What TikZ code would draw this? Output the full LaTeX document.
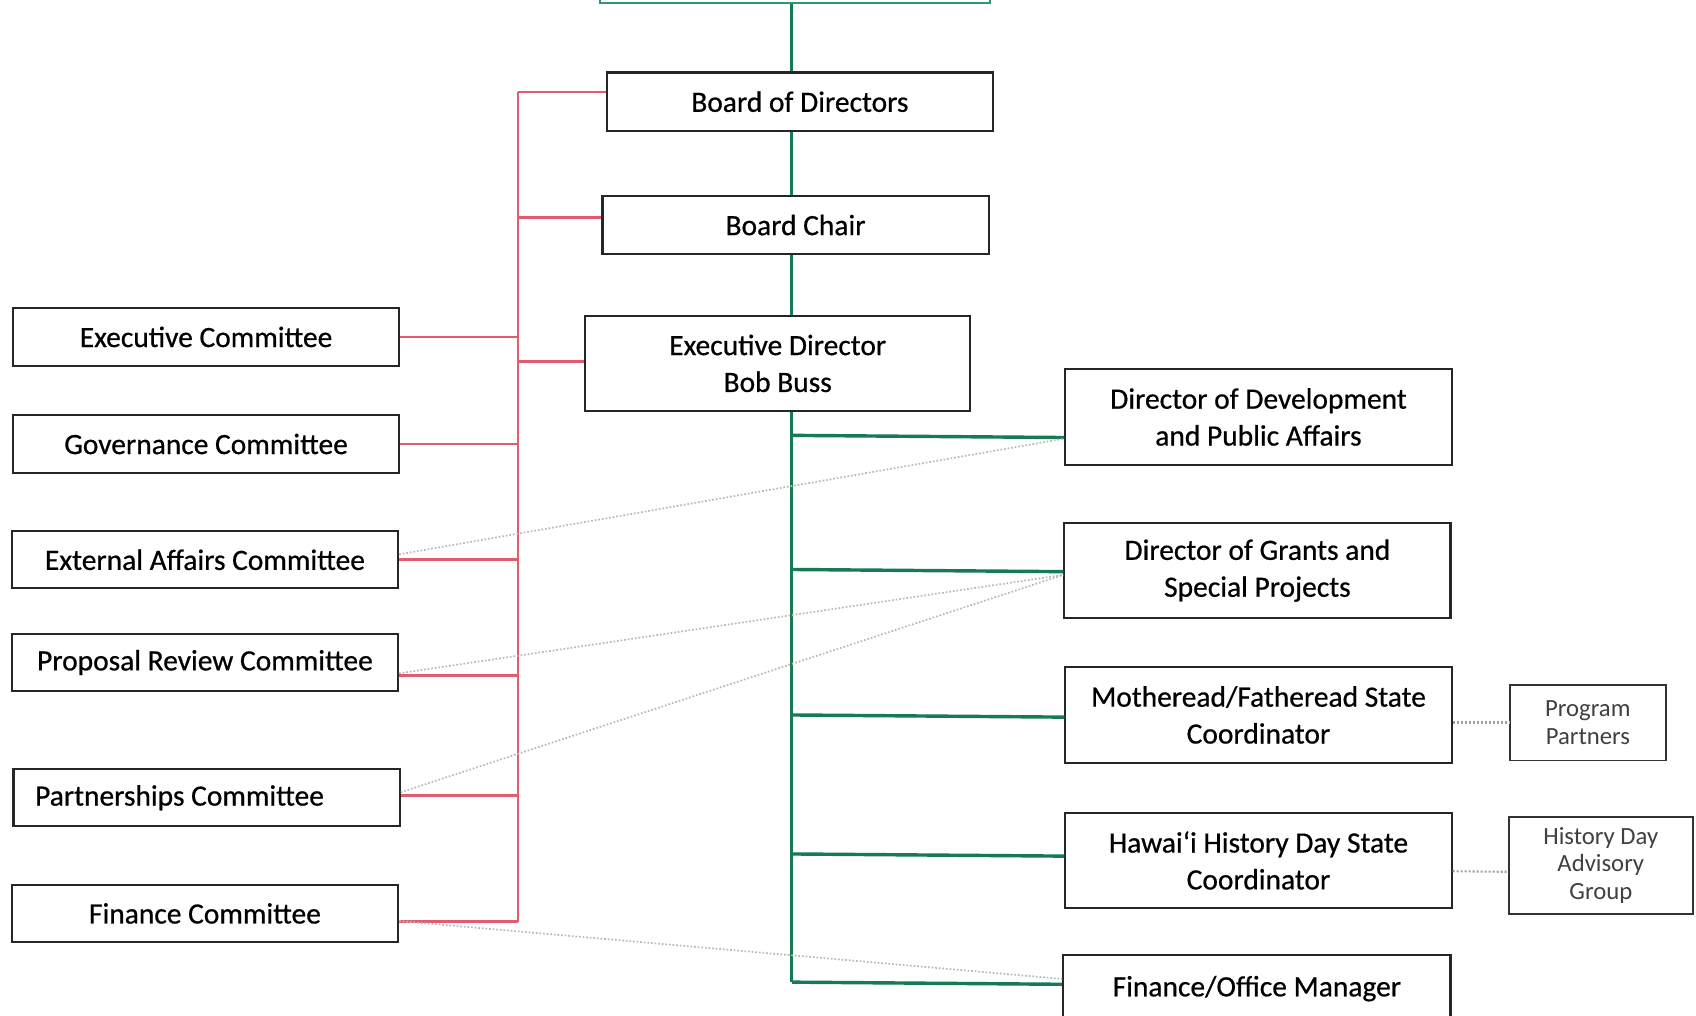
\documentclass[tikz,border=0pt]{standalone}
\usepackage{fontspec}
\setmainfont{Carlito}
\newfontfamily\chartfont{Carlito}[FakeBold=0.6]
\usepackage{tikz}
\usetikzlibrary{positioning}
\usetikzlibrary{calc}

\definecolor{boardgreen}{RGB}{22,122,82}
\definecolor{topgreen}{RGB}{46,150,112}
\definecolor{cmtred}{RGB}{226,92,112}

\begin{document}
\begin{tikzpicture}[x=0.2mm,y=-0.2mm,
	box/.style={draw=black!85, line width=1.1pt, fill=white, inner sep=0pt,
		minimum width=71.4mm, minimum height=10.6mm, align=center,
		font=\chartfont\fontsize{15.5}{19.4}\selectfont},
	tallbox/.style={box, minimum height=17.7mm},
	smallbox/.style={draw=black!80, line width=0.9pt, fill=white, inner sep=0pt,
		align=center, text=black!75, font=\fontsize{13}{14.6}\selectfont},
	trunk/.style={boardgreen, line width=1.8pt},
	redline/.style={cmtred, line width=1.4pt},
	dotline/.style={gray!55, densely dotted, line width=0.9pt},
	peerline/.style={gray!75, densely dotted, line width=1.1pt}]

	\useasboundingbox (0,0) rectangle (1568,939);

	% the trunk and the committee bus sit at fixed x
	\coordinate (G) at (732,0);
	\coordinate (Rtop) at (479,85);
	\coordinate (Rbot) at (479,852);

	%%%%%%%%%%%%%%%%%%%%%%%%%%%%%%%%%%%%%%%%%%%%%%%%%%%%%%%%%%%%%%
	% centre column
	\node[box, draw=topgreen, minimum width=72mm, minimum height=13.2mm] (Top) at (735,-30) {};
	\node[box, minimum height=10.8mm] (BoD) at (739.5,94) {Board of Directors};
	\node[box, minimum height=10.8mm] (Chair) at (735.5,208) {Board Chair};
	\node[tallbox, minimum width=71.2mm] (ED) at (719,336) {Executive Director\\Bob Buss};

	% staff, right column
	\node[tallbox] (DirDev) at (1163.5,385.5) {Director of Development\\and Public Affairs};
	\node[tallbox] (DirGr) at (1162.5,527.5) {Director of Grants and\\Special Projects};
	\node[tallbox] (MFSC) at (1163.5,661) {Motheread/Fatheread State\\Coordinator};
	\node[tallbox] (HHD) at (1163.5,795.5) {Hawai{\char"02BB}i History Day State\\Coordinator};
	\node[box, minimum width=71.6mm, minimum height=12.4mm] (FOM) at (1162,914) {Finance/Office Manager};

	% outside groups
	\node[smallbox, minimum width=28.8mm, minimum height=14mm] (PP) at (1468,668) {Program\\Partners};
	\node[smallbox, minimum width=34mm, minimum height=18mm] (HDAG) at (1480,800) {History Day\\Advisory\\Group};

	% committees, left column
	\node[box] (ExecCom) at (190.5,311.5) {Executive Committee};
	\node[box] (GovCom) at (190.5,410.5) {Governance Committee};
	\node[box] (ExtCom) at (189.5,517.5) {External Affairs Committee};
	\node[box] (PRCom) at (189.5,612.5) {Proposal Review Committee};
	\node[box] (PartCom) at (191,737.5) {Partnerships Committee\hspace*{10mm}};
	\node[box] (FinCom) at (189.5,844.5) {Finance Committee};

	%%%%%%%%%%%%%%%%%%%%%%%%%%%%%%%%%%%%%%%%%%%%%%%%%%%%%%%%%%%%%%
	% green reporting line
	\draw[trunk] (Top.south -| G) -- (BoD.north -| G);
	\draw[trunk] (BoD.south -| G) -- (Chair.north -| G);
	\draw[trunk] (Chair.south -| G) -- (ED.north -| G);
	\draw[trunk] (ED.south -| G) -- ($(FOM.west -| G)+(0,-6)$);
	\draw[trunk] ($(DirDev.west)+(0,19)$) -- ($(DirDev.west -| G)+(0,17)$);
	\draw[trunk] ($(DirGr.west)+(0,1)$) -- ($(DirGr.west -| G)+(0,-1)$);
	\draw[trunk] ($(MFSC.west)+(0,2)$) -- (MFSC.west -| G);
	\draw[trunk] ($(HHD.west)+(0,-4)$) -- ($(HHD.west -| G)+(0,-6)$);
	\draw[trunk] ($(FOM.west)+(0,-4)$) -- ($(FOM.west -| G)+(0,-6)$);

	% red committee bus
	\draw[redline] (Rtop) -- (Rbot);
	\draw[redline] (Rtop) -- (Rtop -| BoD.west);
	\draw[redline] ($(Chair.west)+(0,-7)$) -- ($(Chair.west -| Rtop)+(0,-7)$);
	\draw[redline] ($(ED.west)+(0,-2)$) -- ($(ED.west -| Rtop)+(0,-2)$);
	\draw[redline] (ExecCom.east) -- (ExecCom.east -| Rtop);
	\draw[redline] (GovCom.east) -- (GovCom.east -| Rtop);
	\draw[redline] (ExtCom.east) -- (ExtCom.east -| Rtop);
	\draw[redline] ($(PRCom.east)+(0,12)$) -- ($(PRCom.east -| Rtop)+(0,12)$);
	\draw[redline] ($(PartCom.east)+(0,-2)$) -- ($(PartCom.east -| Rtop)+(0,-2)$);
	\draw[redline] (Rbot) -- (Rbot -| FinCom.east);

	% dotted liaison lines
	\draw[dotline] ($(ExtCom.east)+(0,-5)$) -- ($(DirDev.west)+(0,20)$);
	\draw[dotline] ($(PRCom.east)+(0,10)$) -- ($(DirGr.west)+(0,4)$);
	\draw[dotline] ($(PartCom.east)+(0,-5)$) -- ($(DirGr.west)+(0,4)$);
	\draw[dotline] ($(FinCom.east)+(0,7)$) -- ($(FOM.west)+(0,-9)$);
	\draw[peerline] ($(MFSC.east)+(0,7)$) -- (PP.west);
	\draw[peerline] ($(HHD.east)+(0,10)$) -- ($(HDAG.west)+(0,6)$);

\end{tikzpicture}
\end{document}
